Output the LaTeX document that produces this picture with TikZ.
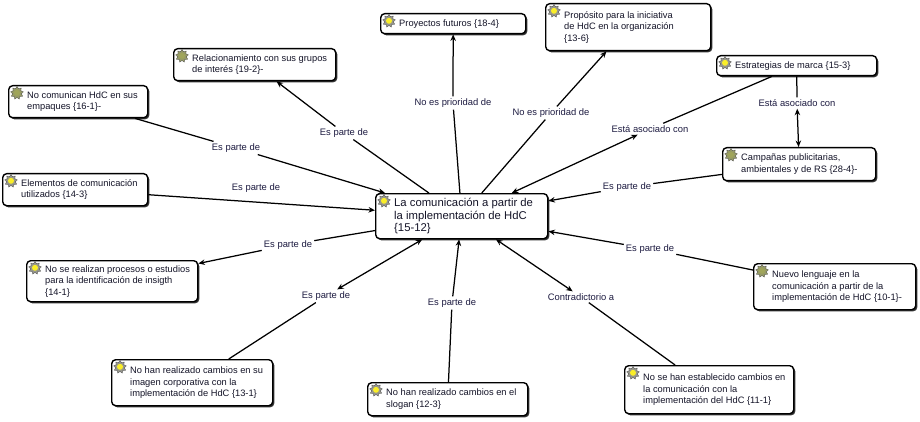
\documentclass[tikz,border=0pt]{standalone}
\usepackage{fontspec}
\setmainfont{Liberation Sans}
\usetikzlibrary{shapes.geometric,shadows,arrows.meta}
\definecolor{txtc}{RGB}{20,20,40}
\definecolor{labc}{RGB}{28,26,64}
\definecolor{gearg}{RGB}{150,150,140}
\definecolor{sunc}{RGB}{250,238,40}
\definecolor{olivec}{RGB}{160,165,90}
\tikzset{
 box/.style={draw=black, line width=1.4pt, rounded corners=4pt, fill=white, inner sep=0pt,
   drop shadow={shadow xshift=1.6pt, shadow yshift=-1.6pt, fill=black!80, opacity=1}},
 txt/.style={font=\fontsize{9.3}{11.5}\selectfont, text=txtc, align=left, inner sep=0pt, anchor=west},
 bigtxt/.style={font=\fontsize{11.3}{12.6}\selectfont},
 lab/.style={font=\fontsize{9.4}{11}\selectfont, text=labc, inner sep=2pt},
 link/.style={line width=1.25pt, -{Stealth[length=6.5pt,width=5.5pt]}},
 blink/.style={line width=1.25pt, {Stealth[length=6.5pt,width=5.5pt]}-{Stealth[length=6.5pt,width=5.5pt]}},
 iconbase/.style={star, star points=9, star point ratio=1.45, minimum size=13pt, inner sep=0pt,
   draw=gray!60!black, line width=0.3pt},
 iconY/.style={iconbase, fill=gearg, path picture={\fill[sunc] (path picture bounding box.center) circle (3pt);}},
 iconG/.style={iconbase, fill=olivec!70!gray, path picture={\fill[olivec] (path picture bounding box.center) circle (3pt);}},
}
\newcommand\mybox[7][]{%
 \node[box, minimum width=#4pt, minimum height=#5pt, anchor=north west] (#2) at (#3) {};
 \node[txt,#1] (#2-t) at ([xshift=19pt]#2.west) {#7};
 \node[icon#6] (#2-i) at ([xshift=9pt,yshift=-8pt]#2.north west) {};
}
\begin{document}
\begin{tikzpicture}[x=1pt,y=-1pt]
\useasboundingbox (0,0) rectangle (920,422);

\mybox{proy}{380,13}{145}{20}{Y}{Proyectos futuros \{18-4\}}
\mybox{prop}{545,3}{165}{47}{Y}{Propósito para la iniciativa\\de HdC en la organización\\\{13-6\}}
\mybox{rel}{173,48}{162}{32}{G}{Relacionamiento con sus grupos\\de interés \{19-2\}-}
\mybox{nocom}{8,85}{139}{32}{G}{No comunican HdC en sus\\empaques \{16-1\}-}
\mybox{estr}{716,55}{160}{20}{Y}{Estrategias de marca \{15-3\}}
\mybox{camp}{722,147}{153}{33}{G}{Campañas publicitarias,\\ambientales y de RS \{28-4\}-}
\mybox[bigtxt]{cen}{375,193}{172}{45}{Y}{La comunicación a partir de\\la implementación de HdC\\\{15-12\}}
\mybox{elem}{2,173}{145}{32}{Y}{Elementos de comunicación\\utilizados \{14-3\}}
\mybox{ins}{26,260}{171}{41}{Y}{No se realizan procesos o estudios\\para la identificación de insigth\\\{14-1\}}
\mybox{img}{111,359}{161}{46}{Y}{No han realizado cambios en su\\imagen corporativa con la\\implementación de HdC \{13-1\}}
\mybox{slog}{367,382}{160}{33}{Y}{No han realizado cambios en el\\slogan \{12-3\}}
\mybox{est}{624,365}{169}{48}{Y}{No se han establecido cambios en\\la comunicación con la\\implementación del HdC \{11-1\}}
\mybox{nuevo}{753,263}{162}{46}{G}{Nuevo lenguaje en la\\comunicación a partir de la\\implementación de HdC \{10-1\}-}

\node[lab] (l1) at (453,103) {No es prioridad de};
\node[lab] (l2) at (551,113) {No es prioridad de};
\node[lab] (l3) at (344,133) {Es parte de};
\node[lab] (l4) at (236,148) {Es parte de};
\node[lab] (l5) at (256,188) {Es parte de};
\node[lab] (l6) at (288,245) {Es parte de};
\node[lab] (l7) at (650,129) {Está asociado con};
\node[lab] (l8) at (797,103) {Está asociado con};
\node[lab] (l9) at (627,187) {Es parte de};
\node[lab] (l10) at (650,249) {Es parte de};
\node[lab] (l11) at (326,296) {Es parte de};
\node[lab] (l12) at (452,303) {Es parte de};
\node[lab] (l13) at (581,297) {Contradictorio a};

\draw[link] (cen) -- (l1) -- (proy);
\draw[link] (cen) -- (l2) -- (prop);
\draw[link] (cen) -- (l3) -- (rel);
\draw[link] (nocom) -- (l4) -- (cen);
\draw[link] (elem) -- (cen);
\draw[link] (cen) -- (l6) -- (ins);
\draw[blink] (estr) -- (l7) -- (cen);
\draw[blink] (estr) -- (l8) -- (camp);
\draw[link] (camp) -- (l9) -- (cen);
\draw[link] (nuevo) -- (l10) -- (cen);
\draw[blink] (img) -- (l11) -- (cen);
\draw[link] (slog) -- (l12) -- (cen);
\draw[blink] (est) -- (l13) -- (cen);
\end{tikzpicture}
\end{document}
